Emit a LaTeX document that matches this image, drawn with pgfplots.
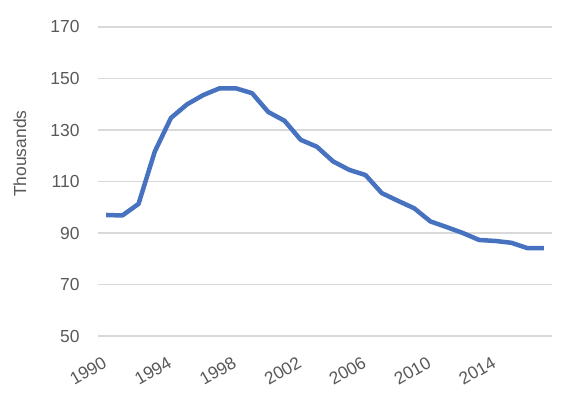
\documentclass[border=0pt]{standalone}
\usepackage{pgfplots}
\pgfplotsset{compat=1.18}
\usepackage{fontspec}
\setmainfont{Liberation Sans}
\definecolor{txt}{HTML}{595959}
\definecolor{gridc}{HTML}{D9D9D9}
\definecolor{linec}{HTML}{4672BF}
\begin{document}
\begin{tikzpicture}[x=1bp,y=1bp]
\useasboundingbox (-98,-63) rectangle (484,336);
\begin{axis}[
  at={(0,0)}, anchor=south west,
  scale only axis,
  width=454bp, height=309bp,
  xmin=1989.5, xmax=2017.5,
  ymin=50, ymax=170,
  ytick={50,70,...,170},
  xtick={1990,1994,...,2014},
  axis line style={draw=none},
  major tick length=0pt,
  ymajorgrids, xmajorgrids=false,
  grid style={draw=gridc, line width=1.2bp},
  tick label style={font=\fontsize{17.5}{20}\selectfont, text=txt},
  /pgf/number format/assume math mode=true,
  /pgf/number format/1000 sep={},
  yticklabel style={anchor=east, xshift=-15bp},
  xticklabel style={xshift=-3bp, yshift=-15bp, rotate=30, anchor=north east},
  ylabel={Thousands},
  ylabel style={font=\fontsize{17.5}{20}\selectfont, text=txt, at={(axis description cs:-0.172,0.59)}, anchor=center, rotate=0},
  clip=false,
]
\addplot[linec, line width=4.5bp, line join=round] coordinates {
(1990,97.0) (1991,96.8) (1992,101.3) (1993,121.6) (1994,134.7) (1995,140.0)
(1996,143.6) (1997,146.2) (1998,146.2) (1999,144.3) (2000,137.0) (2001,133.6)
(2002,126.2) (2003,123.5) (2004,117.8) (2005,114.5) (2006,112.5) (2007,105.5)
(2008,102.5) (2009,99.6) (2010,94.5) (2011,92.3) (2012,90.0) (2013,87.3)
(2014,86.9) (2015,86.2) (2016,84.1) (2017,84.1)
};
\end{axis}
\end{tikzpicture}
\end{document}
